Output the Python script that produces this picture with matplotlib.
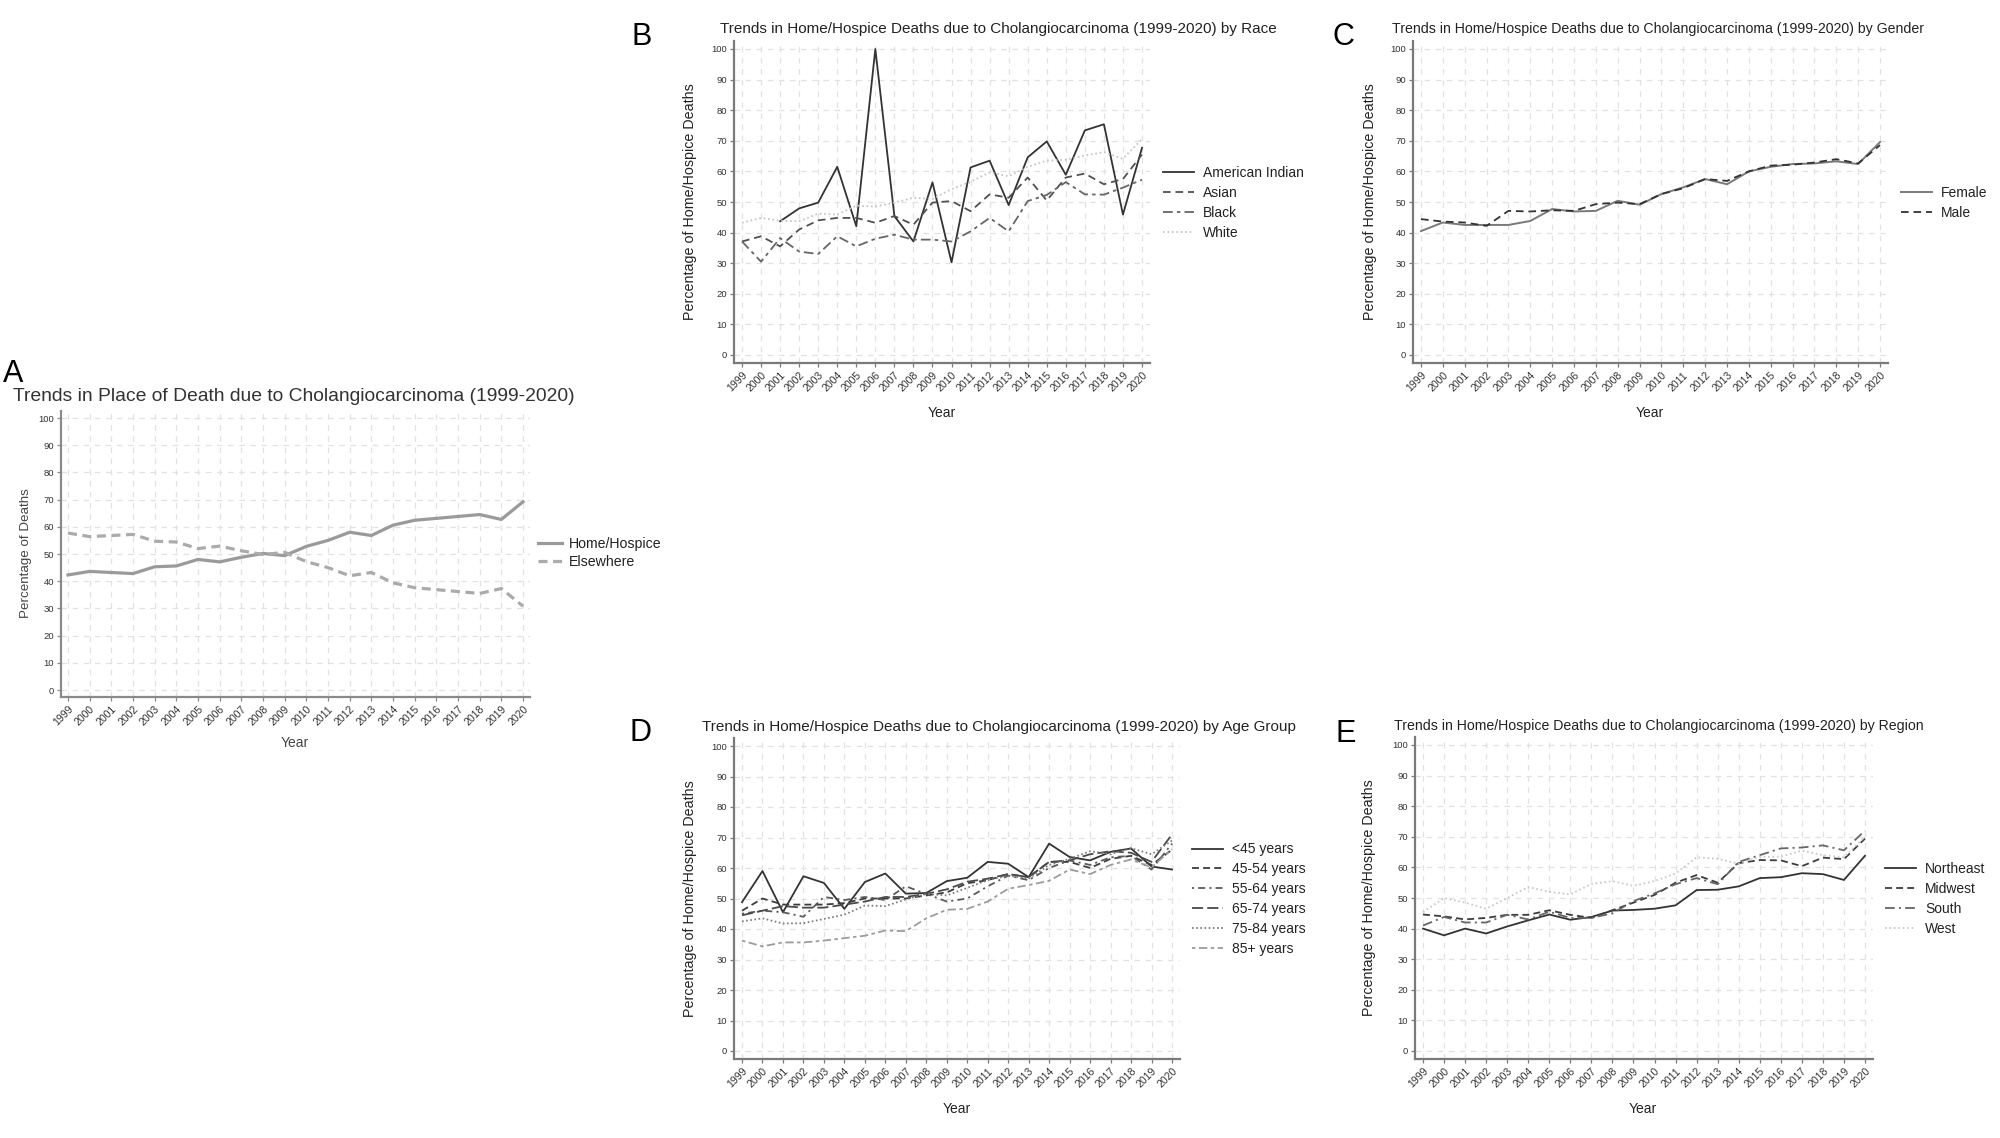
import numpy as np
import matplotlib
matplotlib.use("Agg")
import matplotlib.pyplot as plt

plt.rcParams['font.family'] = ['Liberation Sans', 'DejaVu Sans']
plt.rcParams['lines.scale_dashes'] = False

W, H = 2000, 1138
NA = np.nan

years = list(range(1999, 2021))
year_labels = [str(y) for y in years]
y_ticks = list(range(0, 101, 10))

# ---------------- Panel A: place of death ----------------
place_labels = ["Home/Hospice", "Elsewhere"]
home_hospice = [42.3, 43.6, 43.2, 42.8, 45.3, 45.6, 48.0, 47.1, 48.8, 50.2, 49.4, 52.8,
                55.0, 58.0, 56.8, 60.6, 62.4, 63.1, 63.8, 64.5, 62.7, 69.2]
elsewhere = [57.7, 56.4, 56.8, 57.2, 54.7, 54.4, 52.0, 52.9, 51.2, 49.8, 50.6, 47.2,
             45.0, 42.0, 43.2, 39.4, 37.6, 36.9, 36.2, 35.5, 37.3, 30.8]

# ---------------- Panel B: race ----------------
race_labels = ["American Indian", "Asian", "Black", "White"]
race_american_indian = [NA, NA, 43.7, 47.9, 49.8, 61.5, 42.1, 100.0, 45.4, 37.1, 56.4, 30.3,
                        61.3, 63.5, 49.0, 64.6, 69.8, 58.9, 73.4, 75.4, 45.9, 67.7]
race_asian = [37.1, 38.8, 35.5, 41.0, 44.0, 44.8, 44.8, 43.2, 45.4, 42.6, 49.8, 50.3,
              47.0, 52.5, 51.4, 58.0, 50.5, 58.0, 59.3, 55.8, 57.5, 65.5]
race_black = [37.1, 30.5, 38.2, 33.8, 33.0, 38.8, 35.5, 38.0, 39.3, 37.7, 37.7, 37.1,
              40.4, 44.8, 40.4, 50.3, 52.3, 56.5, 52.5, 52.4, 54.7, 57.3]
race_white = [43.2, 44.8, 43.9, 43.7, 46.2, 45.9, 48.8, 48.5, 49.8, 51.4, 51.0, 54.2,
              56.6, 59.7, 58.4, 61.5, 63.5, 63.8, 65.2, 66.3, 64.1, 70.6]

# ---------------- Panel C: gender ----------------
gender_labels = ["Female", "Male"]
gender_female = [40.5, 43.3, 42.5, 42.5, 42.5, 43.8, 47.7, 46.9, 47.1, 50.4, 49.1, 52.6,
                 54.8, 57.5, 55.8, 60.0, 61.5, 62.4, 62.6, 63.3, 62.4, 69.6]
gender_male = [44.4, 43.6, 43.3, 42.2, 47.1, 46.9, 47.3, 47.1, 49.3, 49.8, 49.3, 52.6,
               54.5, 57.5, 56.9, 60.0, 61.9, 62.2, 62.9, 64.0, 62.6, 68.6]

# ---------------- Panel D: age group ----------------
age_labels = ["<45 years", "45-54 years", "55-64 years", "65-74 years", "75-84 years", "85+ years"]
age_lt45 = [48.8, 59.0, 45.5, 57.3, 55.1, 46.6, 55.4, 58.2, 51.6, 51.8, 55.7, 56.8,
            62.0, 61.4, 57.0, 68.0, 63.6, 62.5, 65.3, 66.4, 60.5, 59.5]
age_45_54 = [46.0, 50.0, 48.0, 48.0, 48.0, 48.5, 50.0, 50.0, 50.0, 51.0, 52.0, 55.0,
             56.0, 58.0, 57.0, 62.0, 62.0, 60.0, 63.0, 64.0, 61.0, 66.0]
age_55_64 = [45.0, 46.0, 45.5, 44.0, 50.5, 49.5, 50.5, 49.5, 54.0, 51.5, 49.0, 50.0,
             54.0, 57.5, 56.0, 60.0, 62.5, 61.0, 63.5, 64.0, 59.5, 68.0]
age_65_74 = [44.5, 46.0, 47.5, 47.0, 47.0, 48.0, 49.0, 50.5, 50.5, 51.5, 53.0, 55.5,
             56.5, 58.0, 57.0, 62.0, 62.5, 64.5, 65.5, 65.0, 62.0, 71.0]
age_75_84 = [42.5, 43.5, 41.8, 41.9, 43.3, 44.7, 47.7, 47.5, 49.7, 51.5, 51.0, 53.5,
             56.0, 57.5, 56.5, 61.0, 63.0, 65.5, 64.5, 66.5, 64.5, 69.0]
age_85_plus = [36.2, 34.3, 35.6, 35.6, 36.2, 37.0, 37.8, 39.5, 39.3, 43.5, 46.3, 46.6,
               49.0, 53.2, 54.4, 55.8, 59.5, 58.0, 61.0, 62.8, 60.2, 66.2]

# ---------------- Panel E: region ----------------
region_labels = ["Northeast", "Midwest", "South", "West"]
region_northeast = [40.0, 37.8, 40.0, 38.4, 40.7, 42.7, 44.6, 42.9, 43.8, 45.9, 46.1, 46.5,
                    47.6, 52.6, 52.7, 53.8, 56.5, 56.8, 58.1, 57.8, 55.9, 63.8]
region_midwest = [44.6, 44.0, 43.0, 43.5, 44.5, 44.5, 46.0, 44.5, 43.5, 46.0, 48.5, 51.0,
                  55.0, 57.5, 55.0, 61.4, 62.4, 62.3, 60.4, 63.2, 62.7, 69.4]
region_south = [41.0, 43.8, 42.0, 42.0, 44.5, 43.0, 45.5, 43.5, 43.5, 45.0, 49.0, 51.5,
                54.5, 56.5, 54.5, 61.8, 64.0, 66.2, 66.5, 67.2, 65.6, 72.0]
region_west = [45.4, 50.0, 48.5, 46.5, 50.0, 53.6, 52.0, 51.2, 54.6, 55.5, 54.0, 55.5,
               58.0, 63.3, 62.8, 61.2, 63.5, 63.5, 65.5, 64.0, 63.3, 70.0]

fig = plt.figure(figsize=(20, 11.38), dpi=100)
fig.patch.set_facecolor('white')


def fx(px):
    return px / W


def fy(py):
    return 1 - py / H


def make_axes(x_first, x_last, y_zero, y_hundred, pad=8, ytick_fs=6.8, xtick_fs=7.6,
              axis_col='#7a7a7a'):
    left = x_first - pad
    right = x_last + pad
    top = y_hundred - pad
    bottom = y_zero + pad
    ax = fig.add_axes([fx(left), fy(bottom), (right - left) / W, (bottom - top) / H])
    sx = (x_last - x_first) / (len(years) - 1)
    sy = (y_zero - y_hundred) / 100.0
    ax.set_xlim(years[0] - pad / sx, years[-1] + pad / sx)
    ax.set_ylim(-pad / sy, 100 + pad / sy)
    ax.set_xticks(years)
    ax.set_xticklabels(year_labels, rotation=45, ha='right', rotation_mode='anchor',
                       fontsize=xtick_fs)
    ax.set_yticks(y_ticks)
    ax.set_yticklabels([str(t) for t in y_ticks], fontsize=ytick_fs)
    for s in ['top', 'right']:
        ax.spines[s].set_visible(False)
    for s in ['left', 'bottom']:
        ax.spines[s].set_color(axis_col)
        ax.spines[s].set_linewidth(1.6)
    ax.tick_params(axis='both', direction='out', length=3, width=0.9, color=axis_col,
                   labelcolor='#333333', pad=2)
    ax.grid(True, which='major', color='#e2e2e2', linewidth=0.9, linestyle=(0, (4, 4)))
    ax.set_axisbelow(True)
    ax.set_facecolor('white')
    return ax


def add_legend(ax, lines, labels, x_px, yc_px, fs=10, handle_px=31, gap_px=9, spacing=0.42):
    fs_px = fs * 100 / 72.0
    leg = ax.legend(lines, labels, loc='center left', bbox_to_anchor=(fx(x_px), fy(yc_px)),
                    bbox_transform=fig.transFigure, frameon=False, fontsize=fs,
                    handlelength=handle_px / fs_px, handletextpad=gap_px / fs_px,
                    labelspacing=spacing, borderpad=0, borderaxespad=0)
    for t in leg.get_texts():
        t.set_color('#222222')
    return leg


def panel_text(title, title_x, title_base, letter, letter_x, letter_base,
               title_fs=10.2, letter_fs=22, title_col='#222222'):
    fig.text(fx(title_x), fy(title_base), title, fontsize=title_fs, ha='left', va='baseline',
             color=title_col)
    fig.text(fx(letter_x), fy(letter_base), letter, fontsize=letter_fs, ha='left', va='baseline',
             color='black')


# ================= Panel A =================
axA = make_axes(68, 523, 690, 418, pad=7, axis_col='#8a8a8a')
lA1, = axA.plot(years, home_hospice, color='#9a9a9a', lw=2.3, solid_joinstyle='round')
lA2, = axA.plot(years, elsewhere, color='#ababab', lw=2.3, linestyle=(0, (6.5, 4.0)))
add_legend(axA, [lA1, lA2], place_labels, 538, 553, fs=10.2, handle_px=24, gap_px=7, spacing=0.25)
fig.text(fx(13), fy(401), "Trends in Place of Death due to Cholangiocarcinoma (1999-2020)",
         fontsize=13.85, ha='left', va='baseline', color='#333333')
fig.text(fx(3), fy(382), "A", fontsize=22, ha='left', va='baseline')
fig.text(fx(295), fy(743), "Year", fontsize=10, ha='center', va='center', color='#444444')
fig.text(fx(26), fy(553), "Percentage of Deaths", fontsize=9.6, ha='center', va='center',
         rotation=90, color='#444444')

# ================= Panel B =================
axB = make_axes(742, 1142, 355, 49)
lB = []
lB.append(axB.plot(years, race_american_indian, color='#333333', lw=1.3)[0])
lB.append(axB.plot(years, race_asian, color='#505050', lw=1.3, linestyle=(0, (5.5, 3.5)))[0])
lB.append(axB.plot(years, race_black, color='#666666', lw=1.3, linestyle=(0, (7, 3, 2.5, 3)))[0])
lB.append(axB.plot(years, race_white, color='#c4c4c4', lw=1.3, linestyle=(0, (1.2, 2.0)))[0])
add_legend(axB, lB, race_labels, 1163, 203)
panel_text("Trends in Home/Hospice Deaths due to Cholangiocarcinoma (1999-2020) by Race",
           720, 33, "B", 632, 45, title_fs=11.0)
fig.text(fx(942), fy(413), "Year", fontsize=10, ha='center', va='center', color='#222222')
fig.text(fx(690), fy(202), "Percentage of Home/Hospice Deaths", fontsize=10.3, ha='center',
         va='center', rotation=90, color='#222222')

# ================= Panel C =================
axC = make_axes(1421, 1880, 355, 49)
lC = []
lC.append(axC.plot(years, gender_female, color='#7a7a7a', lw=1.4)[0])
lC.append(axC.plot(years, gender_male, color='#333333', lw=1.3, linestyle=(0, (5.5, 3.5)))[0])
add_legend(axC, lC, gender_labels, 1901, 203)
panel_text("Trends in Home/Hospice Deaths due to Cholangiocarcinoma (1999-2020) by Gender",
           1392, 33, "C", 1332, 45)
fig.text(fx(1650), fy(413), "Year", fontsize=10, ha='center', va='center', color='#222222')
fig.text(fx(1370), fy(202), "Percentage of Home/Hospice Deaths", fontsize=10.3, ha='center',
         va='center', rotation=90, color='#222222')

# ================= Panel D =================
axD = make_axes(742, 1172, 1051, 746)
lD = []
lD.append(axD.plot(years, age_lt45, color='#333333', lw=1.3)[0])
lD.append(axD.plot(years, age_45_54, color='#3c3c3c', lw=1.3, linestyle=(0, (5, 3)))[0])
lD.append(axD.plot(years, age_55_64, color='#5a5a5a', lw=1.3, linestyle=(0, (1.5, 3, 5, 3)))[0])
lD.append(axD.plot(years, age_65_74, color='#4a4a4a', lw=1.3, linestyle=(0, (8, 3)))[0])
lD.append(axD.plot(years, age_75_84, color='#7c7c7c', lw=1.3, linestyle=(0, (1.2, 1.8)))[0])
lD.append(axD.plot(years, age_85_plus, color='#9c9c9c', lw=1.3, linestyle=(0, (2.5, 2.5, 6, 2.5)))[0])
add_legend(axD, lD, age_labels, 1192, 899)
panel_text("Trends in Home/Hospice Deaths due to Cholangiocarcinoma (1999-2020) by Age Group",
           702, 731, "D", 630, 741, title_fs=11.0)
fig.text(fx(957), fy(1109), "Year", fontsize=10, ha='center', va='center', color='#222222')
fig.text(fx(690), fy(899), "Percentage of Home/Hospice Deaths", fontsize=10.3, ha='center',
         va='center', rotation=90, color='#222222')

# ================= Panel E =================
axE = make_axes(1423, 1865, 1051, 745)
lE = []
lE.append(axE.plot(years, region_northeast, color='#333333', lw=1.3)[0])
lE.append(axE.plot(years, region_midwest, color='#3c3c3c', lw=1.3, linestyle=(0, (5, 3)))[0])
lE.append(axE.plot(years, region_south, color='#666666', lw=1.3, linestyle=(0, (7, 3, 1.5, 3)))[0])
lE.append(axE.plot(years, region_west, color='#c8c8c8', lw=1.3, linestyle=(0, (1.2, 2.0)))[0])
add_legend(axE, lE, region_labels, 1885, 899)
panel_text("Trends in Home/Hospice Deaths due to Cholangiocarcinoma (1999-2020) by Region",
           1394, 730, "E", 1336, 742)
fig.text(fx(1643), fy(1109), "Year", fontsize=10, ha='center', va='center', color='#222222')
fig.text(fx(1369), fy(898), "Percentage of Home/Hospice Deaths", fontsize=10.3, ha='center',
         va='center', rotation=90, color='#222222')

fig.savefig("out.png", dpi=100, facecolor='white')
